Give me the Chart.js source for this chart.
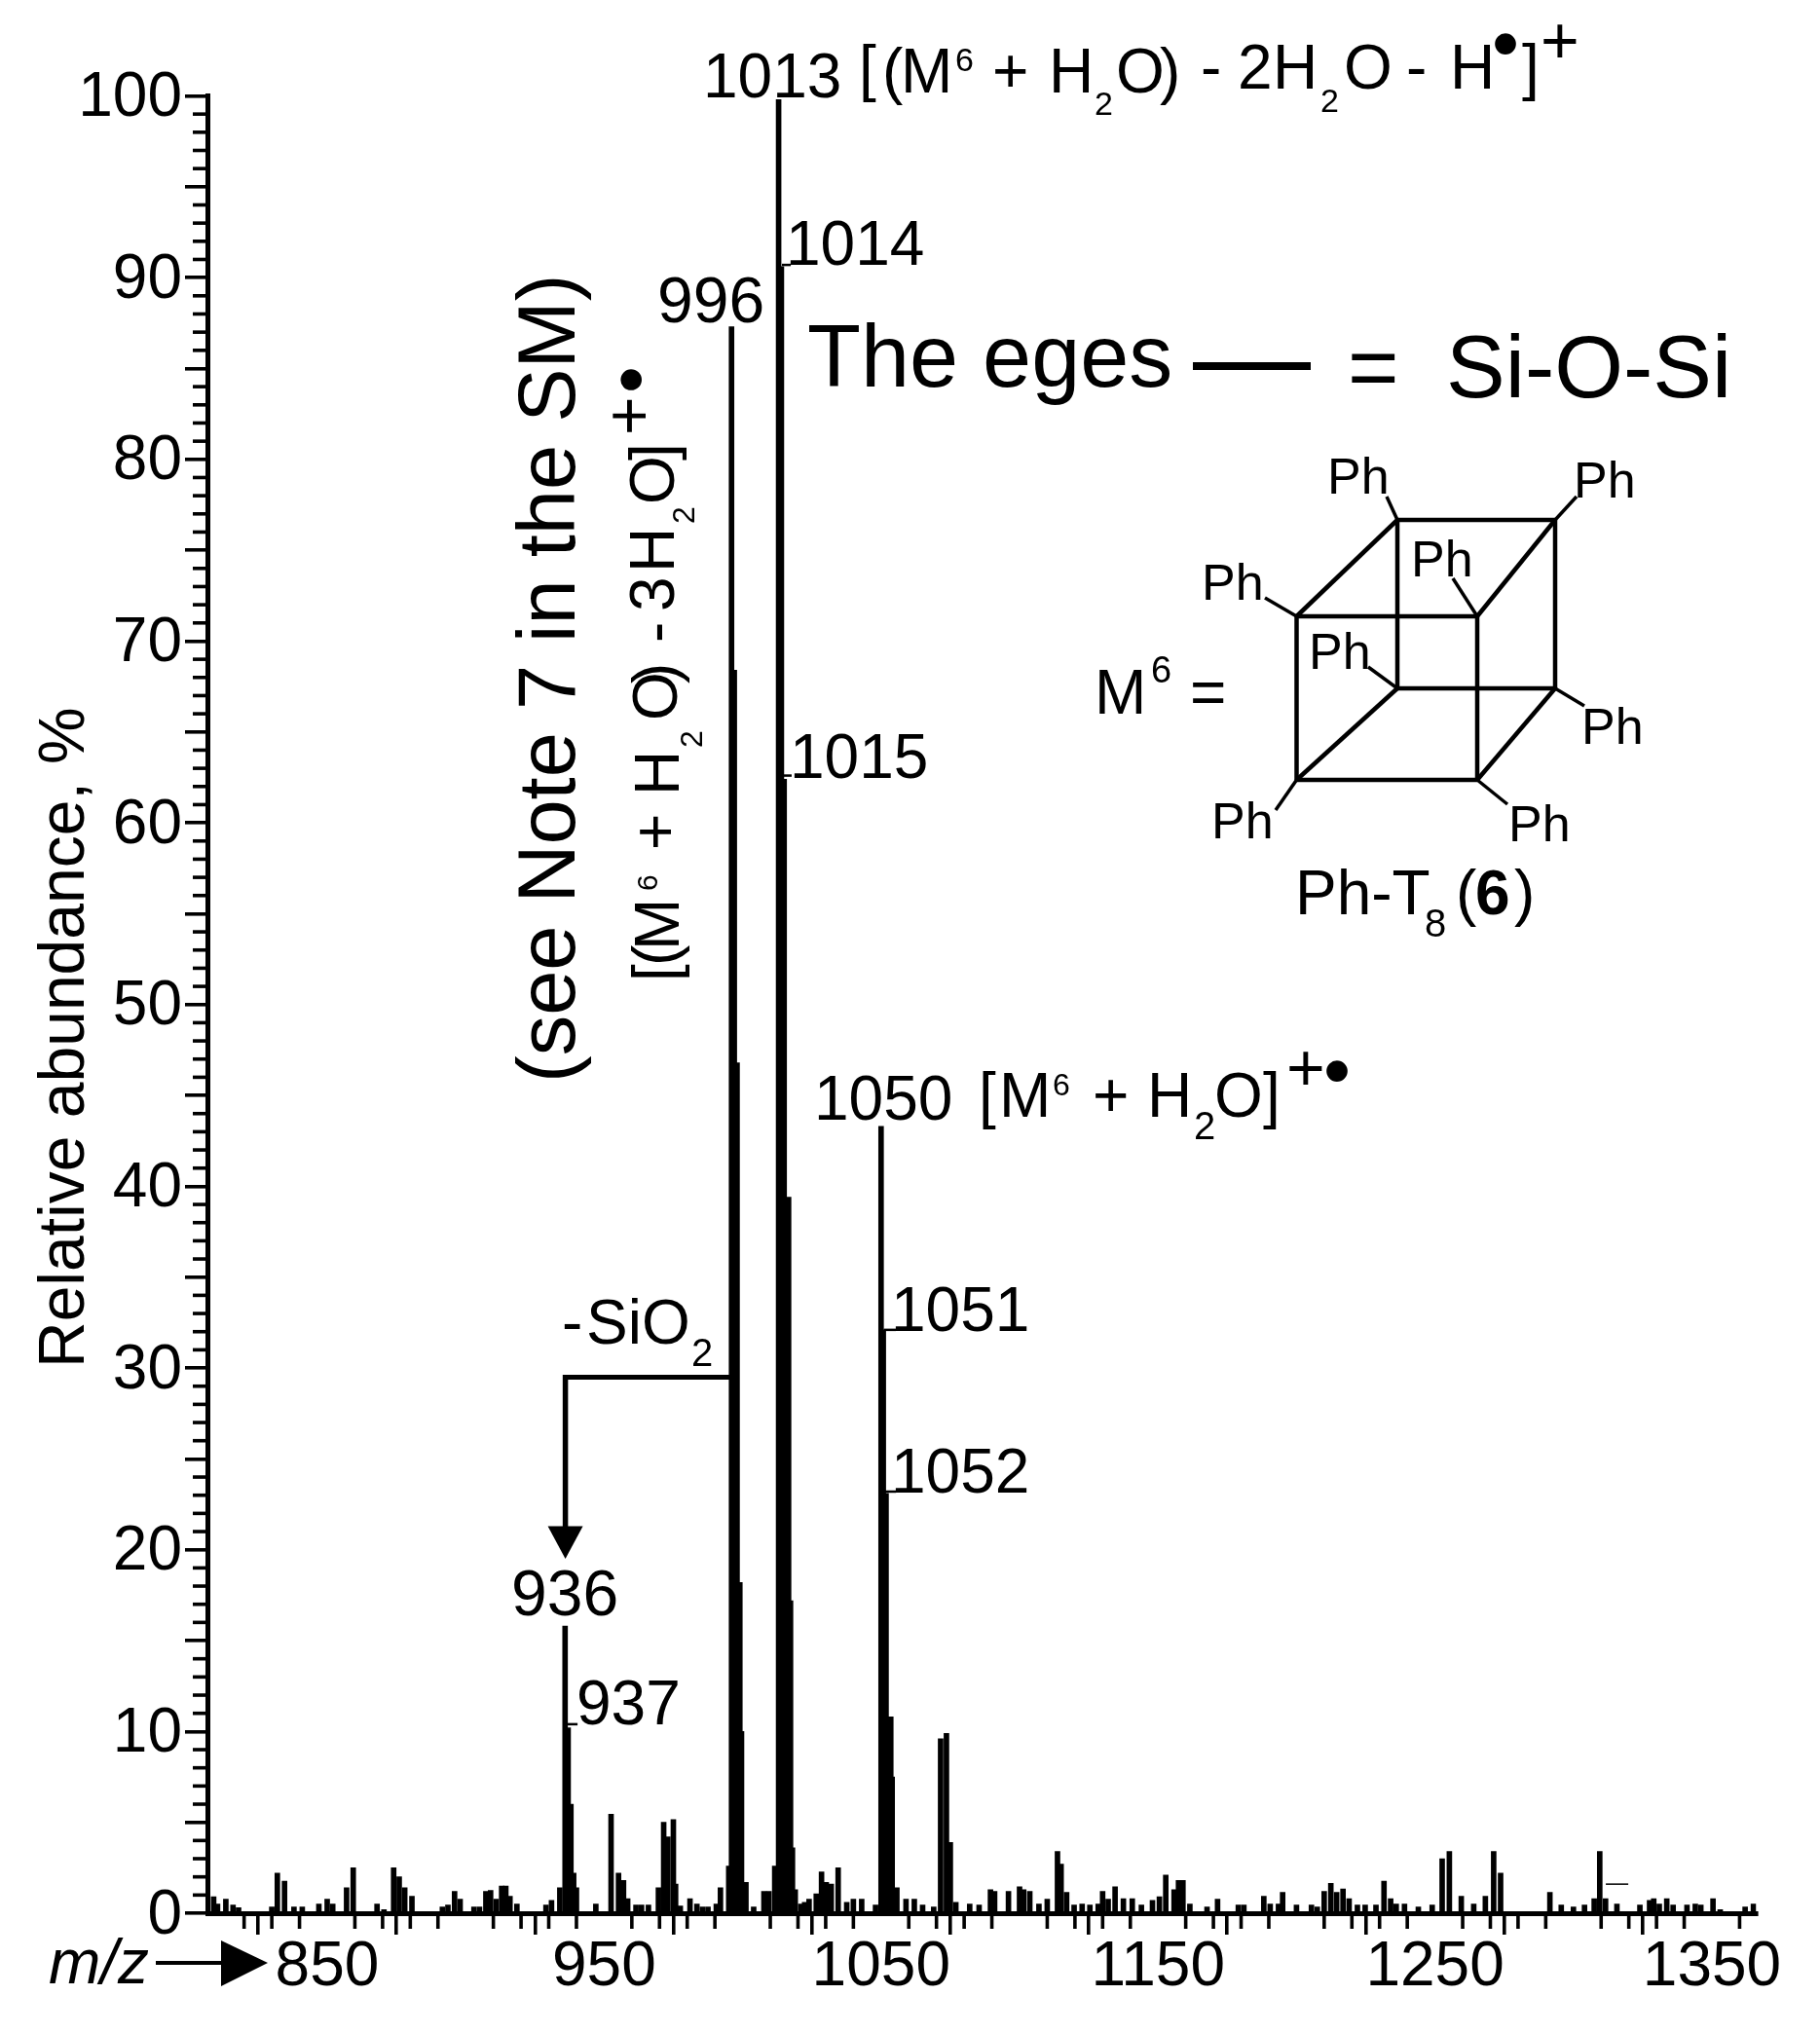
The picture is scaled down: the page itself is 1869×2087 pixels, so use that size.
<!DOCTYPE html>
<html>
<head>
<meta charset="utf-8">
<title>Ph-T8 mass spectrum</title>
<style>
  html, body { margin: 0; padding: 0; background: #fff; }
  canvas { display: block; }
</style>
<script src="https://cdn.jsdelivr.net/npm/chart.js@4"></script>
</head>
<body>
<canvas id="spectrum" width="1869" height="2087"></canvas>
<script>
// labelled ions and their isotope clusters
const peakMz = [935.9, 937, 938, 939, 940,
  996, 997, 998, 999, 999.6,
  1013, 1014, 1015, 1016.6, 1017.3, 1018,
  1050, 1050.8, 1051.8, 1053.5, 1054, 1055.7,
  1071.5, 1073.6, 1075];
const peakAbundance = [15.8, 10.2, 6.0, 2.2, 1.4,
  87.3, 68.4, 46.8, 18.2, 10.0,
  99.8, 90.6, 62.4, 39.4, 17.2, 3.6,
  43.3, 32.1, 23.1, 10.8, 7.5, 1.4,
  9.6, 9.9, 3.9];

// everything else along the baseline
const noiseMz = [809, 810.4, 813.4, 816, 818, 830, 832, 834.6, 838, 841, 847, 850, 852, 857, 859.4,
  868, 870.5, 874, 876, 878, 880.6, 891.6, 893.6, 896, 898, 903, 905, 907.3, 909, 911, 913, 914.5,
  916, 918.5, 929, 931, 934, 947, 952.5, 955.2, 957, 958.5, 961.5, 963.5, 966, 969.6, 971.5, 973, 975,
  975.8, 977.5, 981, 983.5, 985.5, 987.5, 990.5, 992, 995, 1001.2, 1004, 1007.7, 1009.5, 1011.6, 1019,
  1021, 1022.4, 1024, 1026.6, 1028.5, 1030.2, 1032, 1034.5, 1037.6, 1040, 1043, 1048, 1059, 1062, 1065,
  1069, 1077, 1082, 1085.4, 1089.5, 1091, 1096, 1100, 1101.5, 1103.7, 1107, 1110, 1113.7, 1115, 1117,
  1119.7, 1122.6, 1125.4, 1128.4, 1130, 1132, 1134.5, 1137.5, 1140.7, 1144, 1148, 1150.5, 1152.8, 1155.8,
  1157.4, 1159, 1161.5, 1167.7, 1171.5, 1179, 1181, 1188.2, 1190.5, 1193.5, 1195, 1200, 1205.4, 1207.5,
  1210, 1212.4, 1214.5, 1216.8, 1219, 1222, 1224.8, 1228.7, 1231.6, 1234, 1236, 1239, 1244, 1249, 1252.6,
  1255.2, 1259.5, 1264, 1268.2, 1271.2, 1273.7, 1291.5, 1295.6, 1300, 1304, 1307.5, 1309.5, 1311.6, 1315.7,
  1324, 1327.5, 1329, 1331, 1333.7, 1336, 1341, 1344, 1346, 1350.4, 1353, 1362, 1365];
const noiseAbundance = [0.9, 0.5, 0.77, 0.45, 0.3, 0.35, 2.2, 1.77, 0.35, 0.35, 0.5, 0.77, 0.5, 1.4, 2.5,
  0.5, 0.2, 2.5, 2.0, 1.4, 0.93, 0.35, 0.45, 1.2, 0.77, 0.35, 0.35, 1.2, 1.25, 0.77, 1.5, 1.5,
  0.93, 0.5, 0.45, 0.7, 1.4, 0.5, 5.45, 2.2, 1.8, 0.8, 0.45, 0.45, 0.45, 1.4, 5.0, 4.2, 5.15,
  1.6, 0.4, 0.8, 0.5, 0.35, 0.35, 0.5, 1.4, 2.6, 1.7, 0.35, 1.2, 1.2, 2.6, 1.3,
  0.5, 0.6, 0.77, 1.07, 2.27, 1.7, 1.6, 2.5, 0.6, 0.77, 0.77, 0.45, 0.77, 0.77, 0.45,
  0.35, 0.6, 0.5, 0.45, 1.3, 1.2, 1.2, 1.45, 1.3, 1.2, 0.5, 0.77, 3.4, 2.7, 1.15,
  0.45, 0.5, 0.45, 0.5, 1.2, 0.77, 1.45, 0.8, 0.8, 0.45, 0.7, 0.9, 2.1, 1.3,
  1.8, 1.8, 0.5, 0.35, 0.77, 0.45, 0.45, 0.93, 0.5, 0.5, 1.15, 0.45, 0.45, 0.35,
  1.2, 1.64, 1.15, 1.33, 0.8, 0.45, 0.45, 0.45, 1.77, 0.8, 0.5, 0.5, 0.35, 0.45, 3.0,
  3.4, 0.93, 0.5, 0.93, 3.4, 2.2, 1.15, 0.45, 0.35, 0.45, 0.8, 3.4, 0.8, 0.5,
  0.45, 0.7, 0.8, 0.5, 0.8, 0.45, 0.45, 0.5, 0.45, 0.8, 0.2, 0.35, 0.5];

const yTickLabels = [0, 10, 20, 30, 40, 50, 60, 70, 80, 90, 100];
const xTickLabels = [850, 950, 1050, 1150, 1250, 1350];

const INK = '#000';
const FONT = '"Liberation Sans", Arial, sans-serif';

// short leader strokes from a peak to its m/z label: [mzFrom, mzTo, abundance]
const leaders = [[1014.2, 1017.4, 90.7], [1014.2, 1017.7, 62.6], [1051, 1055.4, 32.1], [1051, 1055.4, 23.2], [936.8, 940.4, 10.4]];

// horizontal text: [text, x, baseline, size, style]
const notes = [
  ['1013', 722, 100, 64], ['[', 882, 92, 64], ['(', 906, 95, 64], ['M', 925, 95, 64], ['6', 981, 73, 34],
  ['+', 1019, 95, 64], ['H', 1077, 95, 64], ['2', 1124, 118, 34], ['O', 1146, 95, 64], [')', 1191, 95, 64],
  ['-', 1233, 91, 64], ['2', 1271, 91, 64], ['H', 1307, 91, 64], ['2', 1356, 115, 34], ['O', 1380, 91, 64],
  ['-', 1444, 91, 64], ['H', 1489, 91, 64], [']', 1563, 91, 64], ['+', 1582, 65, 68], ['\u2022', 1532, 72, 80],
  ['1014', 807, 272, 64], ['996', 675, 331, 66], ['1015', 811, 799, 64],
  ['1050', 836, 1150, 64], ['[', 1005, 1147, 64], ['M', 1026, 1147, 64], ['6', 1081, 1125, 32], ['+', 1122, 1147, 64],
  ['H', 1178, 1147, 64], ['2', 1226, 1170, 40], ['O', 1247, 1147, 64], [']', 1297, 1147, 64], ['+', 1321, 1120, 68],
  ['\u2022', 1359, 1127, 80],
  ['1051', 915, 1367, 64], ['1052', 915, 1533, 64], ['936', 525, 1659, 66], ['937', 592, 1771, 64],
  ['-', 577, 1380, 64], ['SiO', 602, 1380, 64], ['2', 710, 1403, 40],
  ['The eges', 829, 397, 90], ['=', 1384, 408, 90], ['Si-O-Si', 1485, 408, 91],
  ['M', 1124, 733, 64], ['6', 1182, 701, 38], ['=', 1222, 733, 64],
  ['Ph-T', 1330, 939, 64], ['8', 1463, 962, 40], ['(', 1495, 939, 64], ['6', 1515, 939, 64, 'bold'], [')', 1555, 939, 64],
  ['Ph', 1363, 507, 52], ['Ph', 1616, 511, 52], ['Ph', 1234, 616, 52], ['Ph', 1449, 592, 52],
  ['Ph', 1344, 687, 52], ['Ph', 1624, 764, 52], ['Ph', 1244, 861, 52], ['Ph', 1549, 864, 52],
  ['m/z', 50, 2037, 64, 'italic']
];

// rotated text reading upwards: [text, x of baseline, y of start, size]
const sideNotes = [
  ['Relative abundance, %', 86, 1405, 66],
  ['(see Note 7 in the SM)', 590, 1112, 83],
  ['[', 695, 1008, 64], ['(', 695, 992, 64], ['M', 697, 976, 64], ['6', 675, 915, 30], ['+', 695, 873, 64],
  ['H', 697, 817, 64], ['2', 721, 768, 32], ['O', 695, 740, 64], [')', 695, 702, 64], ['-', 695, 660, 64],
  ['3', 692, 628, 64], ['H', 692, 588, 64], ['2', 713, 538, 32], ['O', 692, 518, 64], [']', 692, 473, 64],
  ['+', 669, 447, 68], ['\u2022', 675, 404, 80]
];

// Ph-T8 cube, real picture pixels
const v = {
  btl: [1435, 534], btr: [1597, 534], ftl: [1331.5, 633], ftr: [1517, 633],
  bbl: [1435, 707], bbr: [1597, 707], fbl: [1331.5, 801], fbr: [1517, 801]
};
const cubeEdges = [['btl','btr'], ['ftl','ftr'], ['bbl','bbr'], ['fbl','fbr'], ['btl','bbl'], ['btr','bbr'],
  ['ftl','fbl'], ['ftr','fbr'], ['btl','ftl'], ['btr','ftr'], ['bbl','fbl'], ['bbr','fbr']];
const cubeBonds = [['btl',1424,510], ['btr',1619,510], ['ftl',1299,614], ['ftr',1492,594],
  ['bbl',1405,685], ['bbr',1627,725], ['fbl',1310,832], ['fbr',1548,826]];

function line(ctx, x1, y1, x2, y2, w){
  ctx.lineWidth = w;
  ctx.beginPath();
  ctx.moveTo(x1, y1);
  ctx.lineTo(x2, y2);
  ctx.stroke();
}

function triangle(ctx, pts){
  ctx.beginPath();
  ctx.moveTo(pts[0], pts[1]);
  ctx.lineTo(pts[2], pts[3]);
  ctx.lineTo(pts[4], pts[5]);
  ctx.closePath();
  ctx.fill();
}

const overlay = {
  id: 'overlay',
  afterDraw(chart){
    const ctx = chart.ctx;
    const xs = chart.scales.x, ys = chart.scales.y;
    const X = m => xs.getPixelForValue(m), Y = a => ys.getPixelForValue(a);
    ctx.save();
    ctx.strokeStyle = INK;
    ctx.fillStyle = INK;
    ctx.lineCap = 'butt';

    // minor ticks
    for(let a = 1; a < 100; a++){
      if(a % 5) line(ctx, xs.left - 15, Y(a), xs.left, Y(a), 3.6);
    }
    for(let m = 820; m <= 1360; m += 10){
      if(m % 50) line(ctx, X(m), ys.bottom, X(m), ys.bottom + 16, 3.6);
    }

    leaders.forEach(l => line(ctx, X(l[0]), Y(l[2]), X(l[1]), Y(l[2]), 2.5));
    line(ctx, X(1311.7), Y(1.6), X(1319.8), Y(1.6), 1.5);

    // -SiO2 loss arrow from 996 down to 936
    line(ctx, X(936), Y(29.5), X(995.5), Y(29.5), 5);
    line(ctx, X(936), Y(29.5) - 2.5, X(936), Y(21), 5.5);
    triangle(ctx, [X(936) - 18, Y(21.3), X(936) + 18, Y(21.3), X(936), Y(19.5)]);

    // m/z arrow
    line(ctx, 160, 2016, 232, 2016, 4);
    triangle(ctx, [227, 1993, 227, 2040, 275, 2016]);

    // "The eges" bond sample
    line(ctx, 1225, 376, 1346, 376, 8);

    // cube
    cubeEdges.forEach(e => line(ctx, v[e[0]][0], v[e[0]][1], v[e[1]][0], v[e[1]][1], 4.5));
    cubeBonds.forEach(b => line(ctx, v[b[0]][0], v[b[0]][1], b[1], b[2], 3.5));

    ctx.textAlign = 'left';
    ctx.textBaseline = 'alphabetic';
    notes.forEach(n => {
      ctx.font = `${n[4] || ''} ${n[3]}px ${FONT}`;
      ctx.fillText(n[0], n[1], n[2]);
    });
    sideNotes.forEach(n => {
      ctx.save();
      ctx.translate(n[1], n[2]);
      ctx.rotate(-Math.PI / 2);
      ctx.font = `${n[3]}px ${FONT}`;
      ctx.fillText(n[0], 0, 0);
      ctx.restore();
    });
    ctx.restore();
  }
};

new Chart(document.getElementById('spectrum'), {
  type: 'bar',
  plugins: [overlay],
  data: {
    datasets: [{
      data: peakMz.concat(noiseMz).map((m, i) => ({ x: m, y: peakAbundance.concat(noiseAbundance)[i] })),
      backgroundColor: INK,
      barThickness: 5,
      borderWidth: 0
    }]
  },
  options: {
    responsive: false,
    devicePixelRatio: 1,
    animation: false,
    events: [],
    layout: { padding: { top: 98.5, right: 65.5, left: 0, bottom: 0 } },
    plugins: { legend: { display: false }, tooltip: { enabled: false } },
    scales: {
      x: {
        type: 'linear',
        offset: false,
        min: 806.75,
        max: 1366,
        afterFit: s => { s.height = 122; },
        border: { color: INK, width: 5 },
        grid: { drawOnChartArea: false, color: INK, lineWidth: 3.6, tickLength: 22 },
        ticks: {
          stepSize: 50,
          includeBounds: false,
          autoSkip: false,
          maxRotation: 0,
          color: INK,
          padding: 2,
          font: { family: FONT, size: 64, lineHeight: 1 },
          callback: t => xTickLabels.includes(t) ? String(t) : ''
        }
      },
      y: {
        min: 0,
        max: 100,
        afterFit: s => { s.width = 213; },
        border: { color: INK, width: 5 },
        grid: { drawOnChartArea: false, color: INK, lineWidth: 3.6, tickLength: 23 },
        ticks: {
          stepSize: 5,
          autoSkip: false,
          color: INK,
          padding: 3,
          labelOffset: 3,
          font: { family: FONT, size: 64, lineHeight: 1 },
          callback: t => yTickLabels.includes(t) ? String(t) : ''
        }
      }
    }
  }
});
</script>
</body>
</html>
